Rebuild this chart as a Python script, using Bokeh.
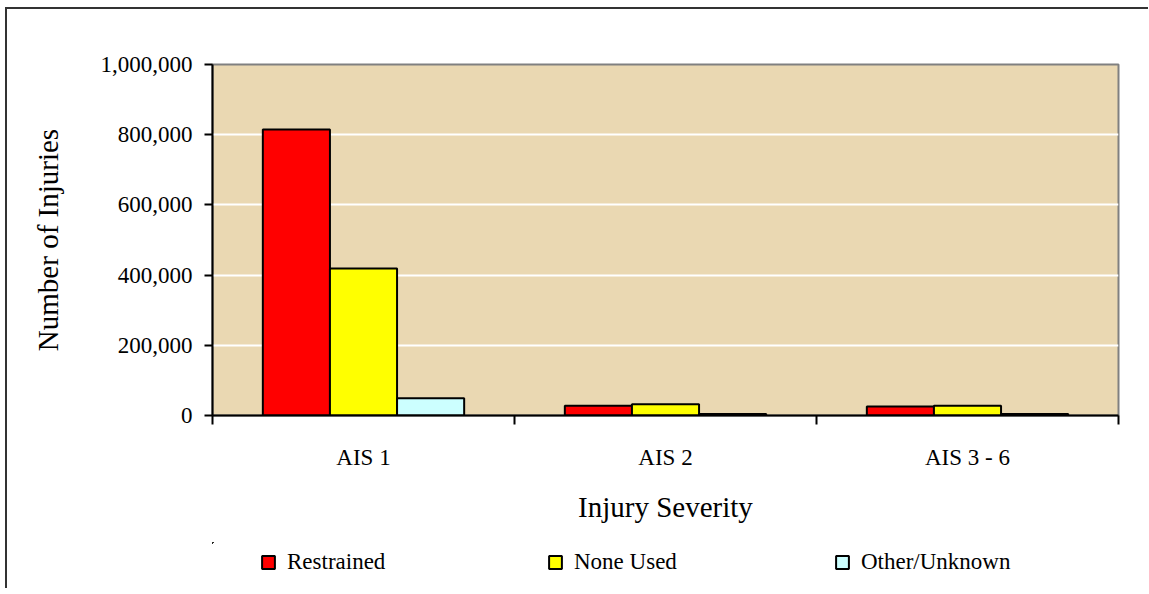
import numpy as np
from bokeh.plotting import figure
from bokeh.layouts import column
from bokeh.models import (Range1d, FixedTicker, NumeralTickFormatter, Legend, LegendItem,
                          ColumnDataSource)
from bokeh.embed import file_html
from bokeh.resources import INLINE

# ---- data ----
categories = ["AIS 1", "AIS 2", "AIS 3 - 6"]
series_names = ["Restrained", "None Used", "Other/Unknown"]
restrained = [815000, 27500, 25800]
none_used = [419000, 32000, 27500]
other_unknown = [49000, 4500, 4000]
y_ticks = [0, 200000, 400000, 600000, 800000, 1000000]
colors = ["#FF0000", "#FFFF00", "#CCFFFF"]

FONT = "Liberation Serif"

p = figure(width=1141, height=533, output_backend="svg", toolbar_location=None,
           x_range=Range1d(0, len(categories)), y_range=Range1d(0, 1000000),
           min_border_left=205, min_border_right=30, min_border_top=55, min_border_bottom=127)

p.background_fill_color = "#EAD8B2"
p.border_fill_color = "white"
p.outline_line_color = "#808080"
p.outline_line_width = 2

# bars
bar_w = 2.0 / 9.0
idx = np.arange(len(categories))
sources = []
for k, (vals, col) in enumerate(zip([restrained, none_used, other_unknown], colors)):
    src = ColumnDataSource(dict(x=idx + 0.5 + (k - 1) * bar_w, top=vals))
    sources.append(src)
    p.vbar(x="x", top="top", bottom=0, width=bar_w, source=src,
           fill_color=col, line_color="black", line_width=2)

# grid
p.xgrid.visible = False
p.ygrid.grid_line_color = "white"
p.ygrid.grid_line_width = 2
p.ygrid.ticker = FixedTicker(ticks=y_ticks)

# y axis
ya = p.yaxis[0]
ya.ticker = FixedTicker(ticks=y_ticks)
ya.formatter = NumeralTickFormatter(format="0,0")
ya.axis_line_color = "black"
ya.axis_line_width = 2
ya.major_tick_out = 8
ya.major_tick_in = 0
ya.major_tick_line_width = 2
ya.minor_tick_line_color = None
ya.major_label_standoff = 12
ya.major_label_text_font = FONT
ya.major_label_text_font_size = "23px"
ya.major_label_text_color = "black"
ya.axis_label = "Number of Injuries"
ya.axis_label_text_font = FONT
ya.axis_label_text_font_size = "29px"
ya.axis_label_text_font_style = "normal"
ya.axis_label_text_color = "black"
ya.axis_label_standoff = 34

# x axis
xa = p.xaxis[0]
xa.ticker = FixedTicker(ticks=list(idx + 0.5), minor_ticks=list(range(len(categories) + 1)))
xa.major_label_overrides = {float(i + 0.5): c for i, c in enumerate(categories)}
xa.axis_line_color = "black"
xa.axis_line_width = 2
xa.major_tick_out = 0
xa.major_tick_in = 0
xa.minor_tick_out = 9
xa.minor_tick_in = 0
xa.minor_tick_line_width = 2
xa.minor_tick_line_color = "black"
xa.major_label_standoff = 20
xa.major_label_text_font = FONT
xa.major_label_text_font_size = "23px"
xa.major_label_text_color = "black"
xa.axis_label = "Injury Severity"
xa.axis_label_text_font = FONT
xa.axis_label_text_font_size = "29px"
xa.axis_label_text_font_style = "normal"
xa.axis_label_text_color = "black"
xa.axis_label_standoff = 18

# legend strip (separate figure so the legend is not clipped); its key renderers
# use the same series but lie outside its visible range
lg = figure(width=1141, height=46, output_backend="svg", toolbar_location=None,
            x_range=Range1d(5, 6), y_range=Range1d(-3, -2),
            x_axis_location=None, y_axis_location=None, min_border=0)
lg.outline_line_color = None
lg.xgrid.visible = False
lg.ygrid.visible = False
lg.background_fill_color = "white"
lg.border_fill_color = "white"
keys = []
for src, col in zip(sources, colors):
    keys.append(lg.vbar(x="x", top="top", bottom=0, width=bar_w, source=src,
                        fill_color=col, line_color="black", line_width=2))

legend = Legend(items=[LegendItem(label=n, renderers=[r]) for n, r in zip(series_names, keys)],
                orientation="horizontal", location=(48, 13),
                glyph_width=16, glyph_height=16, label_standoff=11, label_width=260,
                spacing=0, padding=5, margin=0,
                label_text_font=FONT, label_text_font_size="23px", label_text_color="black",
                border_line_color=None, background_fill_alpha=0)
lg.add_layout(legend, "center")

layout = column(p, lg, spacing=0, margin=(7, 0, 0, 5))
layout.styles = {"border-left": "2px solid #333333", "border-top": "2px solid #333333"}
open("out.html", "w").write(file_html(layout, INLINE))
